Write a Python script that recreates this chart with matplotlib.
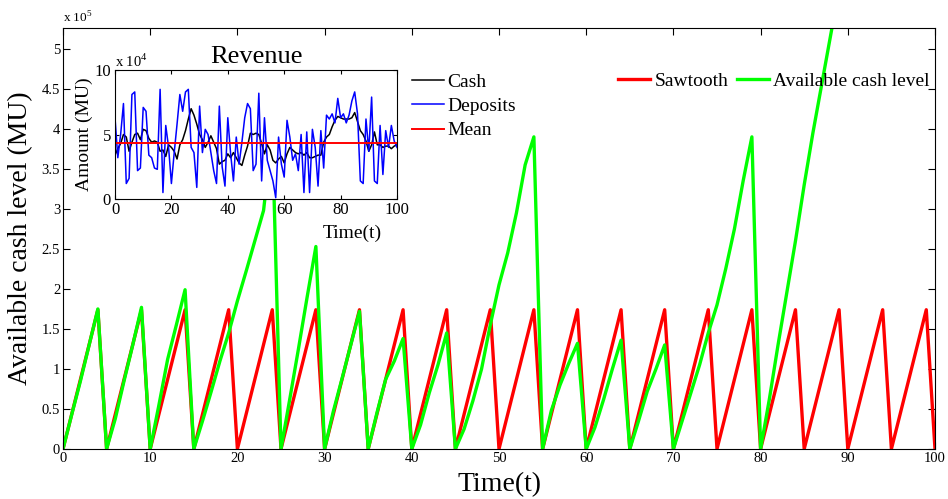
import numpy as np
import matplotlib
matplotlib.use('Agg')
import matplotlib.pyplot as plt

plt.rcParams['font.family'] = ['Liberation Serif', 'DejaVu Serif']
plt.rcParams['mathtext.fontset'] = 'custom'
plt.rcParams['mathtext.rm'] = 'Liberation Serif'

# main chart, values in units of 1e5 MU
t = np.arange(0, 101)
sawtooth = [0, 0.435, 0.87, 1.305, 1.74] * 20 + [0]
cash_level = [0, 0.43, 0.85, 1.3, 1.75,
              0, 0.38, 0.85, 1.3, 1.77,
              0, 0.55, 1.12, 1.55, 1.99,
              0, 0.35, 0.72, 1.1, 1.45, 1.85, 2.22, 2.6, 2.98, 3.95,
              0, 0.62, 1.25, 1.9, 2.53,
              0, 0.47, 0.88, 1.3, 1.72,
              0, 0.45, 0.87, 1.1, 1.38,
              0, 0.3, 0.7, 1.05, 1.45,
              0, 0.25, 0.6, 1.0, 1.55, 2.05, 2.45, 2.95, 3.55, 3.9,
              0, 0.48, 0.8, 1.07, 1.32,
              0, 0.27, 0.62, 1.0, 1.36,
              0, 0.35, 0.72, 1.0, 1.3,
              0, 0.35, 0.7, 1.05, 1.45, 1.8, 2.25, 2.75, 3.35, 3.9,
              0, 0.62, 1.3, 1.95, 2.6, 3.3, 3.95, 4.55, 5.15, 5.75,
              6.4, 7.0, 7.6, 8.2, 8.8, 9.4, 10.0, 10.6, 11.2, 11.8, 12.4]

# inset, values in units of 1e4 MU
deposits = [6.3, 3.2, 5.0, 7.4, 1.2, 1.6, 8.1, 8.3, 2.2, 2.4,
            7.1, 6.8, 3.4, 3.2, 2.4, 2.3, 8.5, 0.5, 5.7, 4.0,
            1.2, 3.6, 5.8, 8.1, 6.8, 8.3, 8.5, 4.0, 3.6, 0.9,
            7.2, 3.6, 5.4, 5.0, 3.6, 2.2, 1.2, 7.2, 2.5, 1.0,
            6.3, 3.5, 1.4, 4.8, 2.7, 4.4, 6.3, 7.4, 7.0, 2.2,
            2.7, 8.2, 1.4, 6.3, 3.0, 2.2, 1.4, 0.1, 4.8, 2.7,
            1.7, 6.1, 4.8, 3.0, 3.5, 2.2, 5.0, 0.5, 5.2, 0.5,
            5.4, 4.0, 1.0, 5.3, 2.4, 6.5, 6.2, 6.6, 5.9, 7.8,
            6.3, 6.6, 5.9, 6.5, 7.6, 8.3, 6.6, 1.4, 1.2, 6.2,
            3.7, 7.9, 1.4, 1.2, 5.7, 1.9, 5.3, 4.0, 5.7, 4.5, 4.0]
cash = [3.4, 3.9, 4.3, 5.0, 4.8, 3.7, 4.4, 5.0, 5.1, 4.6,
        5.4, 5.3, 4.7, 4.4, 4.5, 4.4, 3.7, 3.8, 3.3, 4.2,
        4.0, 3.7, 3.1, 4.2, 4.6, 5.3, 6.2, 7.0, 6.5, 5.8,
        5.0, 4.6, 4.0, 4.4, 4.9, 4.4, 3.9, 2.7, 2.9, 3.0,
        3.5, 3.2, 3.6, 3.2, 2.8, 2.6, 3.4, 4.1, 5.1, 5.0,
        5.1, 5.0, 4.3, 3.5, 4.2, 3.8, 3.0, 2.8, 3.1, 3.3,
        2.8, 3.5, 4.0, 3.8, 3.6, 3.5, 3.6, 3.4, 3.6, 3.2,
        3.2, 3.3, 3.4, 3.4, 4.4, 4.8, 5.0, 5.6, 6.1, 6.4,
        6.3, 6.2, 6.2, 6.2, 6.3, 6.7, 6.0, 5.3, 5.0, 4.5,
        3.7, 4.2, 5.2, 4.2, 4.2, 4.0, 4.1, 4.1, 3.9, 4.1, 4.2]
mean_level = 4.35

W, H = 948, 499
fig = plt.figure(figsize=(W / 100, H / 100), dpi=100)

ax = fig.add_axes([63 / W, 1 - 449 / H, 872 / W, 421 / H])
ax.plot(t, sawtooth, color='#ff0000', lw=2.4, label='Sawtooth')
ax.plot(t, cash_level, color='#00ff00', lw=2.4, label='Available cash level')
ax.set_xlim(0, 100)
ax.set_ylim(0, 5.26)
ax.set_xticks(np.arange(0, 101, 10))
ax.set_yticks(np.arange(0, 5.01, 0.5))
ax.set_yticklabels(['0', '0.5', '1', '1.5', '2', '2.5', '3', '3.5', '4', '4.5', '5'])
ax.tick_params(direction='in', top=True, right=True, length=5, labelsize=10.5, pad=2)
ax.set_xlabel('Time(t)', fontsize=20, labelpad=5)
ax.set_ylabel('Available cash level (MU)', fontsize=20, labelpad=6)
fig.text(63 / W, 1 - 18 / H, r'x 10$^5$', fontsize=9.5, va='center', ha='left')
ax.legend(loc='upper right', bbox_to_anchor=(930 / W, 1 - 72 / H), bbox_transform=fig.transFigure,
          ncol=2, frameon=False, fontsize=14, handlelength=1.65, handletextpad=0.25,
          columnspacing=0.4, borderpad=0, borderaxespad=0)

ins = fig.add_axes([115 / W, 1 - 199 / H, 282 / W, 129 / H])
ins.set_facecolor('white')
ins.plot(t, cash, color='black', lw=1.1, label='Cash')
ins.plot(t, deposits, color='#0000ff', lw=1.1, label='Deposits')
ins.axhline(mean_level, color='#ff0000', lw=1.4, label='Mean')
ins.set_xlim(0, 100)
ins.set_ylim(0, 10)
ins.set_xticks(np.arange(0, 101, 20))
ins.set_yticks([0, 5, 10])
ins.tick_params(direction='in', top=True, right=True, length=3, labelsize=12, pad=2)
ins.tick_params(axis='y', pad=3)
ins.set_xlabel('Time(t)', fontsize=14)
ins.xaxis.set_label_coords(0.84, -0.2)
ins.set_ylabel('Amount (MU)', fontsize=14, labelpad=1)
ins.set_title('Revenue', fontsize=19, pad=5)
ins.text(0, 1.0, r'x 10$^4$', transform=ins.transAxes, fontsize=10.5, va='bottom', ha='left')
ins.legend(loc='upper left', bbox_to_anchor=(412 / W, 1 - 73 / H), bbox_transform=fig.transFigure,
           frameon=False, fontsize=14, handlelength=1.65, handletextpad=0.15,
           labelspacing=0.35, borderpad=0, borderaxespad=0)

fig.savefig('out.png', dpi=100)
